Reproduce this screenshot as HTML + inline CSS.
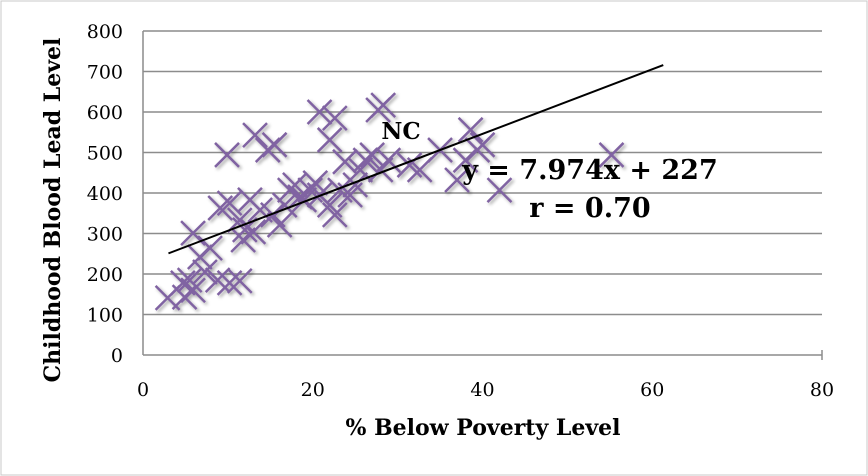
<!DOCTYPE html>
<html><head><meta charset="utf-8"><style>
body{margin:0;background:#fff;}
svg{display:block;font-family:"DejaVu Serif","Liberation Serif",serif;}
</style></head><body>
<svg id="chart" width="868" height="476" viewBox="0 0 868 476" xmlns="http://www.w3.org/2000/svg">
<defs><filter id="sh" x="-50%" y="-50%" width="200%" height="200%"><feDropShadow dx="2" dy="2" stdDeviation="1.5" flood-color="#000" flood-opacity="0.35"/></filter></defs>
<rect x="1" y="1" width="866" height="474" fill="#fff" stroke="#c8c8c8"/>
<g id="grid"></g>
<g id="axes"></g>
<g id="points" filter="url(#sh)"></g>
<g id="trend"></g>
<text x="401" y="139" font-size="23" font-weight="bold" text-anchor="middle">NC</text>
<text x="590" y="179" font-size="27" font-weight="bold" text-anchor="middle">y = 7.974x + 227</text>
<text x="590" y="217" font-size="27" font-weight="bold" text-anchor="middle">r = 0.70</text>
<text x="483" y="435" font-size="22" font-weight="bold" text-anchor="middle">% Below Poverty Level</text>
<text transform="translate(60,210) rotate(-90)" font-size="22" font-weight="bold" text-anchor="middle">Childhood Blood Lead Level</text>
</svg>
<script>
const xTicks=[0,20,40,60,80];
const yTicks=[0,100,200,300,400,500,600,700,800];
const povertyX=[2.9,4.9,5.9,4.7,5.5,7.3,6.7,7.9,5.9,8.8,10.2,11.4,9.1,10.2,9.9,11.4,11.8,12,13,13.2,15.5,14.7,12.6,13.8,15.3,16.1,16.7,17.3,17.9,18.5,19,19.7,20.8,20.3,20.8,22.6,22,22,22.6,23.2,24.4,25,25.6,26.2,27,27.7,28.3,28,28.9,31.4,32.6,35,37,38,38.6,39.4,40,42,55.2,23.8];
const leadY=[141,143,160,178,185,205,242,264,301,185,178,183,363,375,494,333,284,309,304,543,519,506,383,358,346,321,370,407,420,390,383,407,395,425,600,585,531,370,346,407,395,420,457,481,494,605,617,457,481,469,457,506,432,481,556,506,519,407,494,477];
const slope=7.974, intercept=227, trendX=[3,61.3];
const NS="http://www.w3.org/2000/svg";
const X0=143,X1=822,Y0=355,Y1=31;
const sx=v=>X0+(v-0)/(80-0)*(X1-X0);
const sy=v=>Y0-(v-0)/(800-0)*(Y0-Y1);
function mk(tag,attrs,parent){const e=document.createElementNS(NS,tag);for(const k in attrs)e.setAttribute(k,attrs[k]);document.getElementById(parent).appendChild(e);return e;}
yTicks.forEach(t=>{
  const l=mk('line',{x1:X0,x2:X1,y1:sy(t),y2:sy(t),stroke:'#8c8c8c','stroke-width':1.5},'grid');
  
  
  const tx=mk('text',{x:123,y:sy(t)+7,'font-size':19,'text-anchor':'end'},'axes');
  tx.textContent=t;
  
  
});
xTicks.forEach(t=>{
  const tx=mk('text',{x:sx(t),y:396,'font-size':19,'text-anchor':'middle'},'axes');
  tx.textContent=t;
  
  
});
const ya=mk('line',{x1:X0,x2:X0,y1:Y1,y2:Y0,stroke:'#8c8c8c','stroke-width':1.5},'axes');


const xa=mk('line',{x1:X1,x2:X1,y1:Y0-5,y2:Y0+5,stroke:'#8c8c8c','stroke-width':1.5},'axes');


povertyX.forEach((v,i)=>{
  const cx=sx(v),cy=sy(leadY[i]),r=12;
  const p=mk('path',{d:`M${cx-r},${cy-r}L${cx+r},${cy+r}M${cx+r},${cy-r}L${cx-r},${cy+r}`,stroke:'#8064a2','stroke-width':2.5,fill:'none'},'points');
  
  
});
const tl=mk('line',{x1:sx(trendX[0]),y1:sy(slope*trendX[0]+intercept),x2:sx(trendX[1]),y2:sy(slope*trendX[1]+intercept),stroke:'#000','stroke-width':2},'trend');


</script>
</body></html>
